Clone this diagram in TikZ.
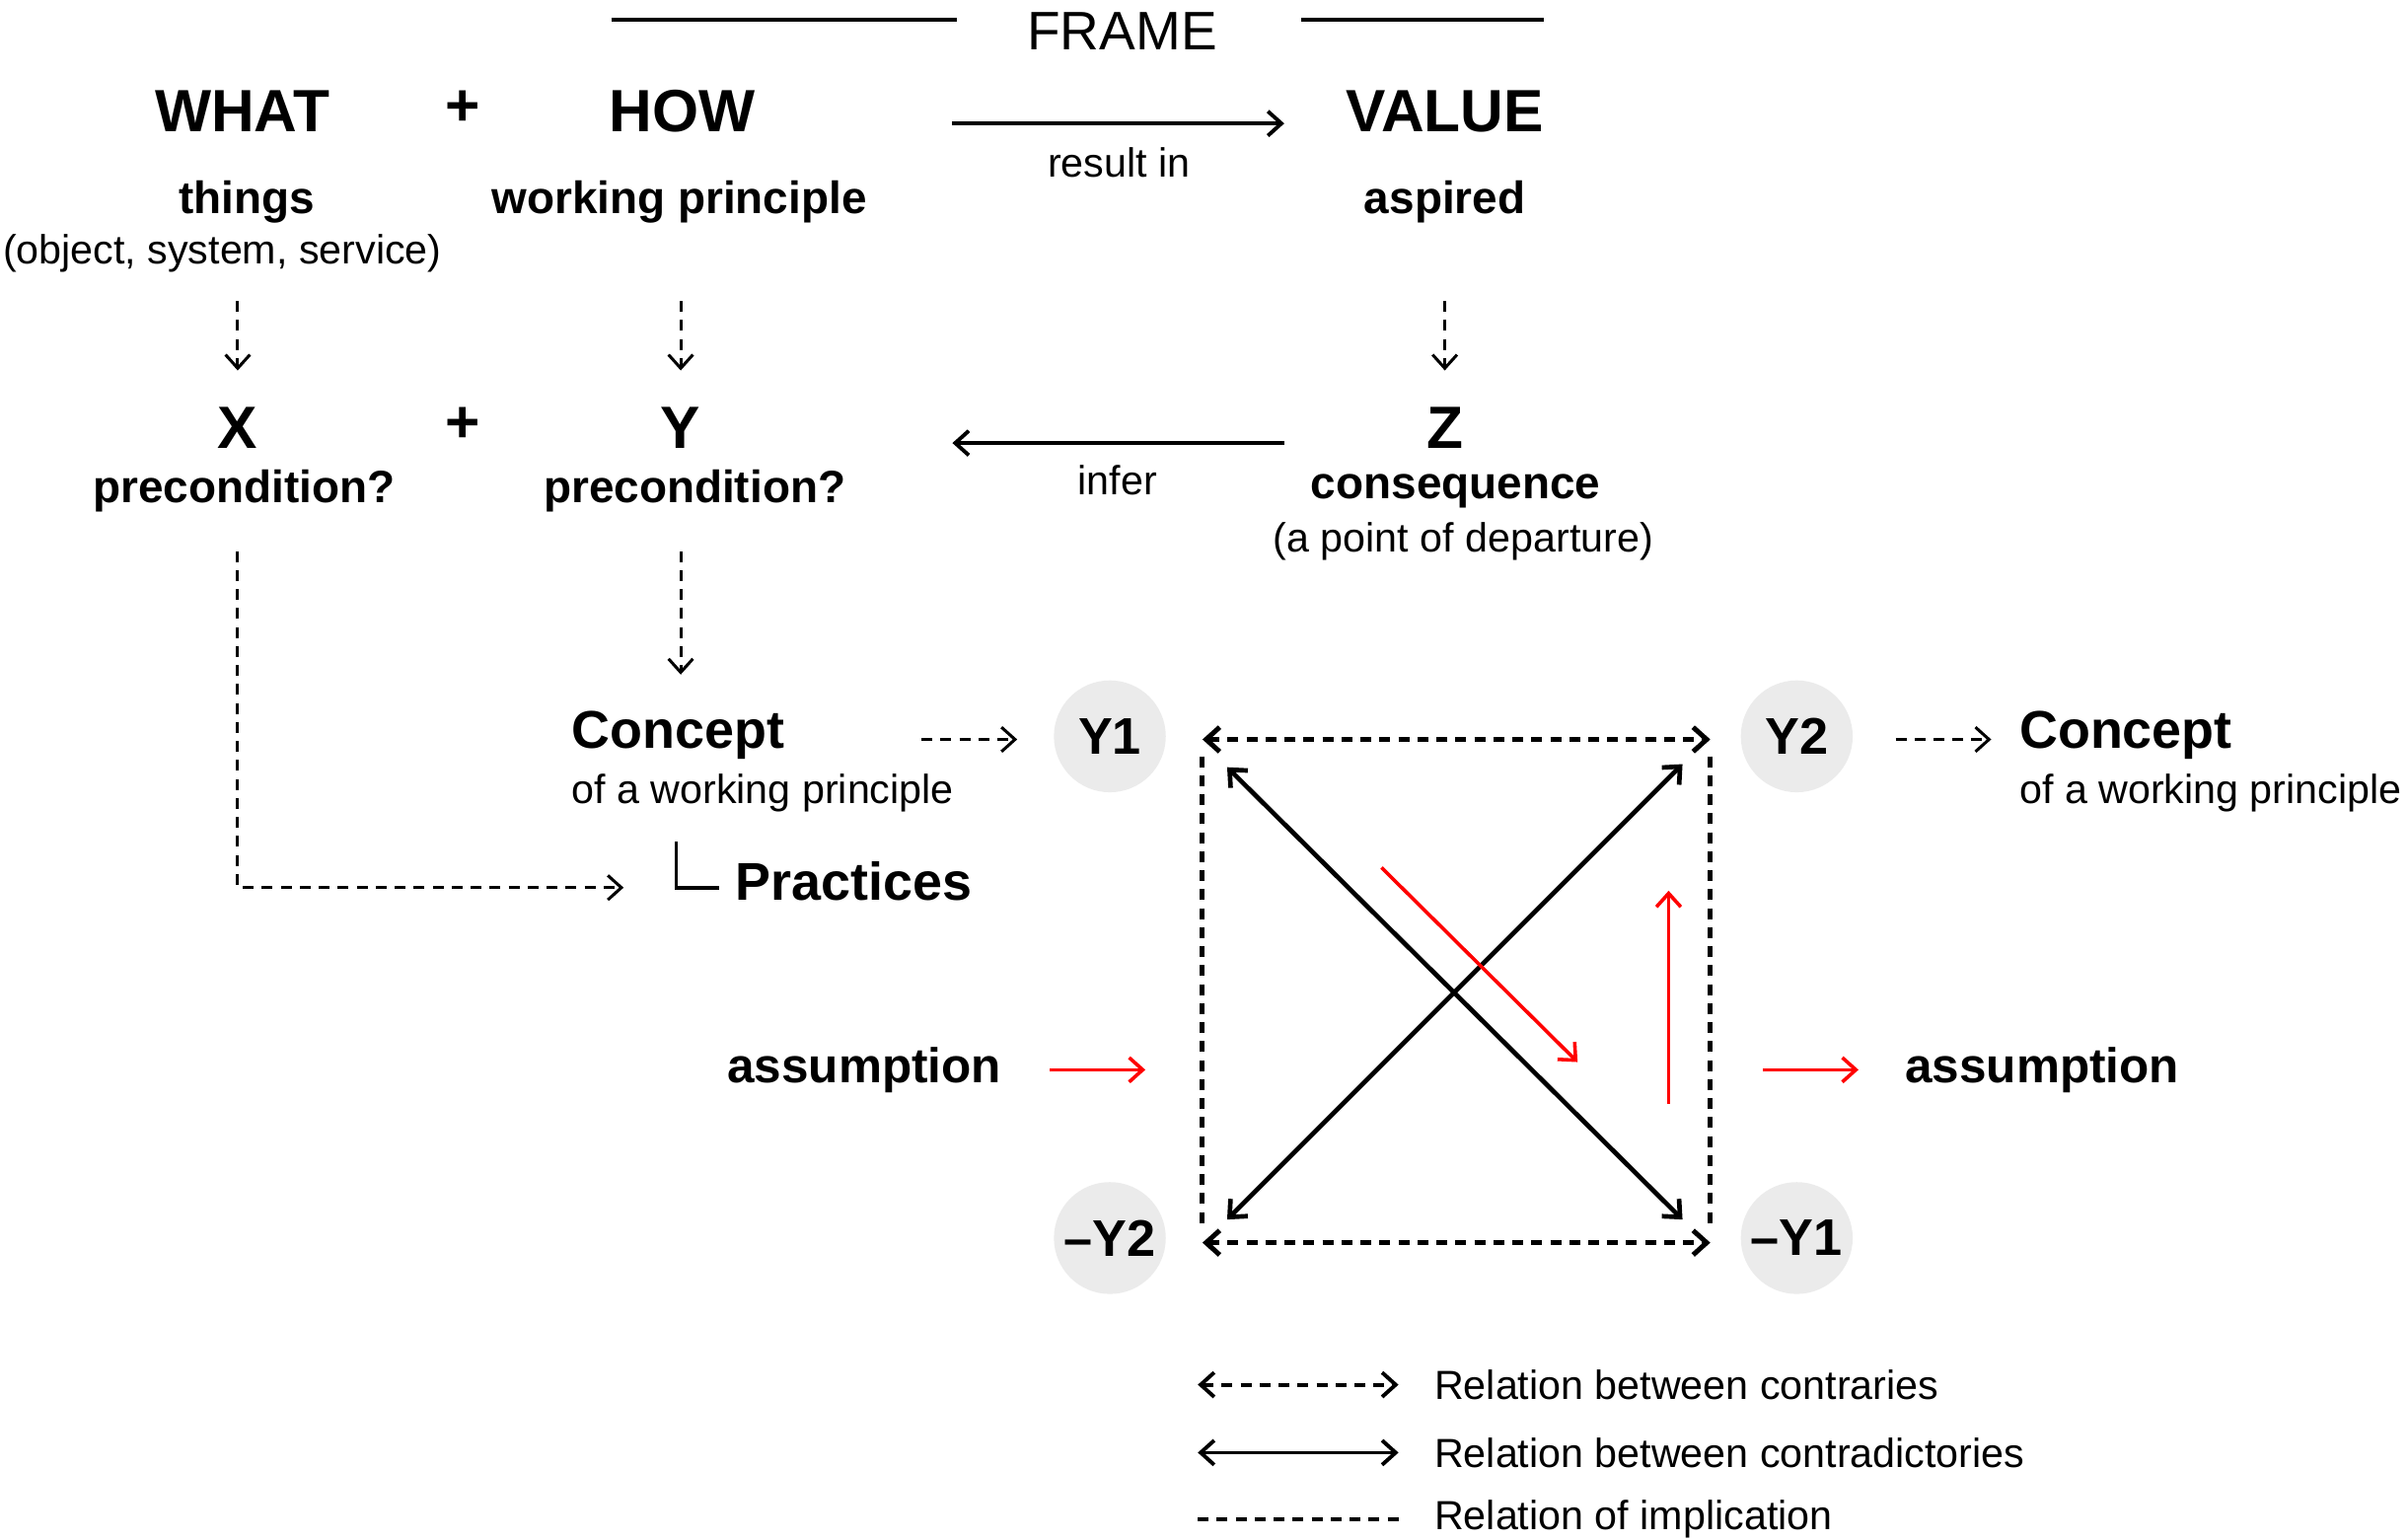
\documentclass[tikz,border=0pt]{standalone}
\usepackage{fontspec}
\setmainfont{Liberation Sans}
\usetikzlibrary{arrows.meta}
\begin{document}
\begin{tikzpicture}[x={(0.02cm,0)},y={(0,-0.02cm)},
 big/.style={font=\fontsize{22}{24}\selectfont\bfseries},
 mid/.style={font=\fontsize{16.7}{18}\selectfont\bfseries},
 sm/.style={font=\fontsize{15}{17}\selectfont},
 con/.style={font=\fontsize{19.6}{21}\selectfont\bfseries},
 ln/.style={line width=1.4pt},
 tip/.style={-{Straight Barb[length=5pt,width=9pt]}},
 dtip/.style={{Straight Barb[length=5pt,width=9pt]}-{Straight Barb[length=5pt,width=9pt]}},
 dsh/.style={dash pattern=on 4pt off 3pt},
 dl/.style={line width=1.1pt},
 circ/.style={circle,fill=black!8,minimum size=1.45cm,inner sep=0pt,font=\fontsize{19}{21}\selectfont\bfseries},
 red/.style={draw=red,line width=1.3pt}]
\useasboundingbox (0,0) rectangle (1560,997);
\node[font=\fontsize{20}{22}\selectfont] (frame) at (727,20) {FRAME};
\coordinate (f1) at (396,13); \coordinate (f2) at (620,13);
\coordinate (f3) at (843,13); \coordinate (f4) at (1000,13);
\draw[ln] (f1)--(f2); \draw[ln] (f3)--(f4);
\node[big] (what) at (157,72) {WHAT};
\node[big] (p1) at (300,70) {+};
\node[big] (how) at (442,72) {HOW};
\node[big] (value) at (936,72) {VALUE};
\coordinate (r1) at (617,80); \coordinate (r2) at (832,80);
\draw[ln,tip] (r1)--(r2);
\node[sm] (res) at (725,105) {result in};
\node[mid] (things) at (160,131) {things};
\node[sm] (obj) at (144,164) {(object, system, service)};
\node[mid] (wp) at (440,131) {working principle};
\node[mid] (asp) at (936,131) {aspired};
\node[big] (X) at (154,277) {X};
\node[big] (p2) at (300,275) {+};
\node[big] (Y) at (441,277) {Y};
\node[big] (Z) at (936,277) {Z};
\coordinate (a1) at (154,195); \coordinate (a2) at (154,240);
\coordinate (b1) at (441,195); \coordinate (b2) at (441,240);
\coordinate (c1) at (936,195); \coordinate (c2) at (936,240);
\draw[dsh,tip,dl] (a1)--(a2);
\draw[dsh,tip,dl] (b1)--(b2);
\draw[dsh,tip,dl] (c1)--(c2);
\node[mid] (pc1) at (158,318) {precondition?};
\node[mid] (pc2) at (450,318) {precondition?};
\node[mid] (cons) at (943,318) {consequence};
\node[sm] (dep) at (948,351) {(a point of departure)};
\coordinate (i1) at (832,287); \coordinate (i2) at (617,287);
\draw[ln,tip] (i1)--(i2);
\node[sm] (inf) at (724,311) {infer};
\coordinate (d1) at (441,357); \coordinate (d2) at (441,437);
\draw[dsh,tip,dl] (d1)--(d2);
\coordinate (e1) at (154,357); \coordinate (e2) at (154,575); \coordinate (e3) at (404,575);
\draw[dsh,tip,dl] (e1)--(e2)--(e3);
\node[con,anchor=west,inner sep=0pt] (con1) at (370,476) {Concept};
\node[sm,anchor=west,inner sep=0pt] (ow1) at (370,514) {of a working principle};
\coordinate (k1) at (438,545); \coordinate (k2) at (438,575); \coordinate (k3) at (466,575);
\draw[line width=1.3pt] (k1)--(k2)--(k3);
\node[con,anchor=west,inner sep=0pt] (prac) at (476,571) {Practices};
\node[circ] (Y1) at (719,477) {Y1};
\node[circ] (Y2) at (1164,477) {Y2};
\node[circ] (nY2) at (719,802) {\textendash Y2};
\node[circ] (nY1) at (1164,802) {\textendash Y1};
\coordinate (g1) at (597,479); \coordinate (g2) at (659,479);
\draw[dsh,tip,dl] (g1)--(g2);
\coordinate (h1) at (1228,479); \coordinate (h2) at (1290,479);
\draw[dsh,tip,dl] (h1)--(h2);
\node[con,anchor=west,inner sep=0pt] (con2) at (1308,476) {Concept};
\node[sm,anchor=west,inner sep=0pt] (ow2) at (1308,514) {of a working principle};
% square
\coordinate (s1) at (779,479); \coordinate (s2) at (1108,479);
\coordinate (s3) at (779,805); \coordinate (s4) at (1108,805);
\coordinate (l1) at (779,490); \coordinate (l2) at (779,795);
\coordinate (l3) at (1108,490); \coordinate (l4) at (1108,795);
\draw[line width=1.8pt,dsh,dtip] (s1)--(s2);
\draw[line width=1.8pt,dsh,dtip] (s3)--(s4);
\draw[line width=1.8pt,dsh] (l1)--(l2);
\draw[line width=1.8pt,dsh] (l3)--(l4);
\coordinate (x1) at (795,497); \coordinate (x2) at (1090,790);
\coordinate (x3) at (1090,495); \coordinate (x4) at (795,790);
\draw[line width=1.7pt,dtip] (x1)--(x2);
\draw[line width=1.7pt,dtip] (x3)--(x4);
\coordinate (q1) at (895,562); \coordinate (q2) at (1022,688);
\coordinate (q3) at (1081,715); \coordinate (q4) at (1081,577);
\draw[red,tip] (q1)--(q2);
\draw[red,tip] (q3)--(q4);
\node[font=\fontsize{18}{20}\selectfont\bfseries] (as1) at (560,693) {assumption};
\node[font=\fontsize{18}{20}\selectfont\bfseries] (as2) at (1323,693) {assumption};
\coordinate (m1) at (680,693); \coordinate (m2) at (742,693);
\coordinate (m3) at (1142,693); \coordinate (m4) at (1204,693);
\draw[red,tip] (m1)--(m2);
\draw[red,tip] (m3)--(m4);
% legend
\coordinate (L1) at (776,897); \coordinate (L2) at (906,897);
\coordinate (L3) at (776,941); \coordinate (L4) at (906,941);
\coordinate (L5) at (776,984); \coordinate (L6) at (906,984);
\draw[ln,dsh,dtip] (L1)--(L2);
\draw[ln,dtip] (L3)--(L4);
\draw[ln,dsh] (L5)--(L6);
\node[sm,anchor=west,inner sep=0pt] (t1) at (929,897) {Relation between contraries};
\node[sm,anchor=west,inner sep=0pt] (t2) at (929,941) {Relation between contradictories};
\node[sm,anchor=west,inner sep=0pt] (t3) at (929,984) {Relation of implication};
\end{tikzpicture}
\end{document}
